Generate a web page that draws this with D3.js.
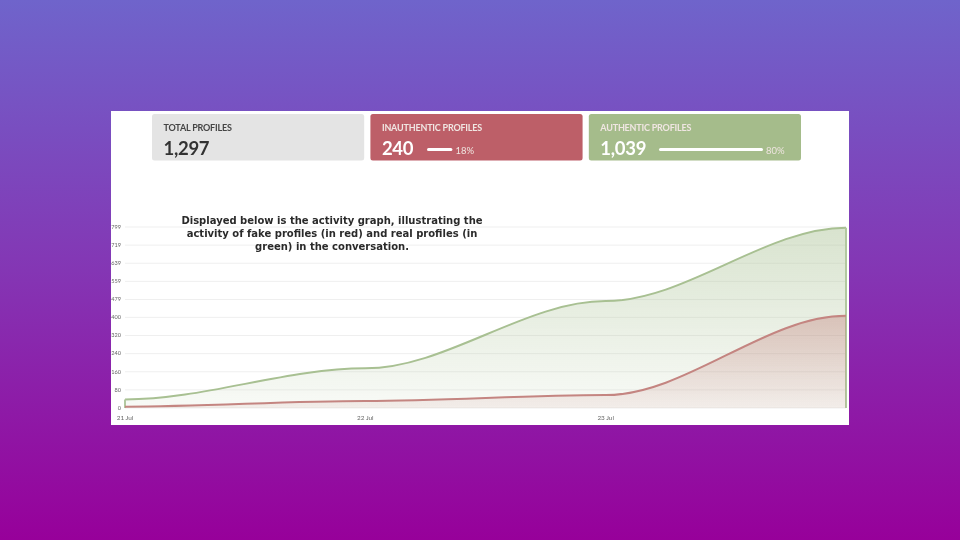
<!DOCTYPE html>
<html><head><meta charset="utf-8">
<script src="https://cdn.jsdelivr.net/npm/d3@7/dist/d3.min.js"></script>
<style>html,body{margin:0;padding:0;width:960px;height:540px;overflow:hidden;background:#8a30b0}svg{display:block}</style>
</head><body><svg id="c" width="960" height="540"></svg>
<script>
const dates = ["2023-07-21","2023-07-22","2023-07-23","2023-07-24"];
const authentic = [38,175,472,796];
const inauthentic = [6,31,57,407];
const yTicks = [0,80,160,240,320,400,479,559,639,719,799];
const xTickDates = ["2023-07-21","2023-07-22","2023-07-23"];
const xTickLabels = ["21 Jul","22 Jul","23 Jul"];
const cardTitles = ["TOTAL PROFILES","INAUTHENTIC PROFILES","AUTHENTIC PROFILES"];
const cardValues = ["1,297","240","1,039"];
const cardShares = [null,18,80];
const cardColors = ["#e4e4e4","#bd5f68","#a5bc8b"];
const headingLines = ["Displayed below is the activity graph, illustrating the","activity of fake profiles (in red) and real profiles (in","green) in the conversation."];

// Curve with flat tangents at every data point and thirds-spaced control points.
function curveFlatStep(context){
  let px, py, n, second = false;
  return {
    areaStart(){ second = false; },
    areaEnd(){ context.closePath(); second = false; },
    lineStart(){ n = 0; },
    lineEnd(){ second = true; },
    point(a,b){
      a=+a; b=+b;
      if(n===0){ if(second) context.lineTo(a,b); else context.moveTo(a,b); }
      else if(a===px){ context.lineTo(a,b); }
      else { const dx=(a-px)/3; context.bezierCurveTo(px+dx,py,a-dx,b,a,b); }
      px=a; py=b; n++;
    }
  };
}

const svg = d3.select("#c");
const defs = svg.append("defs");
function grad(id, stops){
  const g = defs.append("linearGradient").attr("id",id).attr("x1",0).attr("y1",0).attr("x2",0).attr("y2",1);
  stops.forEach(s=>g.append("stop").attr("offset",s[0]).attr("stop-color",s[1]).attr("stop-opacity",s[2]));
}
grad("bg",[[0,"#6f64cb",1],[0.5,"#8436b4",1],[1,"#97009a",1]]);
grad("gg",[[0,"#a9c193",0.45],[1,"#a9c193",0.08]]);
grad("rg",[[0,"#c07a76",0.38],[1,"#c07a76",0.1]]);
defs.append("filter").attr("id","soft").append("feGaussianBlur").attr("stdDeviation",0.4);

svg.append("rect").attr("width",960).attr("height",540).attr("fill","url(#bg)");
svg.append("rect").attr("x",111).attr("y",111).attr("width",738).attr("height",314).attr("fill","#fff");

const root = svg.append("g").attr("filter","url(#soft)");
const parse = d3.timeParse("%Y-%m-%d");
const x = d3.scaleTime().domain([parse("2023-07-21"),parse("2023-07-24")]).range([125,846]);
const y = d3.scaleLinear().domain([0,799]).range([408,227]);

// cards
const cardX = d3.scaleBand().domain(cardTitles).range([152,801]).paddingInner(0.0285);
const shareW = d3.scaleLinear().domain([0,100]).range([0,130]);
const barStart = {1:427,2:659};
cardTitles.forEach((t,i)=>{
  const cx = cardX(t), light = i>0;
  const g = root.append("g").attr("transform",`translate(${cx},114)`);
  g.append("rect").attr("width",cardX.bandwidth()).attr("height",46.5).attr("rx",2.5).attr("fill",cardColors[i]);
  g.append("text").attr("x",11.5).attr("y",16.5).attr("font-family","Lato").attr("font-weight",700).attr("font-size",9)
    .attr("letter-spacing",-0.2).attr("fill",light?"#f0e6e2":"#444").text(t);
  g.append("text").attr("x",11.5).attr("y",40.5).attr("font-family","Lato").attr("font-weight",700).attr("font-size",18.5)
    .attr("letter-spacing",-0.3).attr("fill",light?"#fff":"#333").text(cardValues[i]);
  if(cardShares[i]!=null){
    const bx = barStart[i]-cx, w = shareW(cardShares[i])+(i==1?2:0);
    g.append("rect").attr("x",bx).attr("y",34).attr("width",w).attr("height",3).attr("rx",1.5).attr("fill","#fff");
    g.append("text").attr("x",bx+w+3).attr("y",40).attr("font-family","Lato").attr("font-size",9.5)
      .attr("fill","#efe5e0").text(cardShares[i]+"%");
  }
});

// grid + axes
yTicks.forEach(t=>{
  root.append("line").attr("x1",125).attr("x2",846).attr("y1",y(t)).attr("y2",y(t)).attr("stroke","#efefef").attr("stroke-width",1);
  root.append("text").attr("x",121).attr("y",y(t)+1.8).attr("text-anchor","end").attr("font-family","Lato").attr("font-size",5.6).attr("fill","#666").text(t);
});
xTickDates.forEach((d,i)=>{
  root.append("text").attr("x",x(parse(d))).attr("y",420).attr("text-anchor","middle").attr("font-family","Lato").attr("font-size",6.4).attr("fill","#666").text(xTickLabels[i]);
});

// series
function draw(vals, fill, stroke, sw){
  const pts = vals.map((v,i)=>({d:parse(dates[i]),v}));
  const area = d3.area().x(p=>x(p.d)).y0(y(0)).y1(p=>y(p.v)).curve(curveFlatStep);
  const line = d3.line().x(p=>x(p.d)).y(p=>y(p.v)).curve(curveFlatStep);
  root.append("path").attr("d",area(pts)).attr("fill",fill);
  root.append("path").attr("d",line(pts)).attr("fill","none").attr("stroke",stroke).attr("stroke-width",sw);
  return pts;
}
const gp = draw(authentic,"url(#gg)","#a8c092",2);
[gp[0],gp[gp.length-1]].forEach(p=>{
  root.append("line").attr("x1",x(p.d)).attr("x2",x(p.d)).attr("y1",y(p.v)).attr("y2",y(0)).attr("stroke","#b2c8a0").attr("stroke-width",2);
});
draw(inauthentic,"url(#rg)","#c48581",2);

// heading
headingLines.forEach((l,i)=>{
  root.append("text").attr("x",332).attr("y",223.5+i*13).attr("text-anchor","middle")
    .attr("font-family","DejaVu Sans").attr("font-weight",700).attr("font-size",10).attr("fill","#2b2b2b").text(l);
});
</script></body></html>
